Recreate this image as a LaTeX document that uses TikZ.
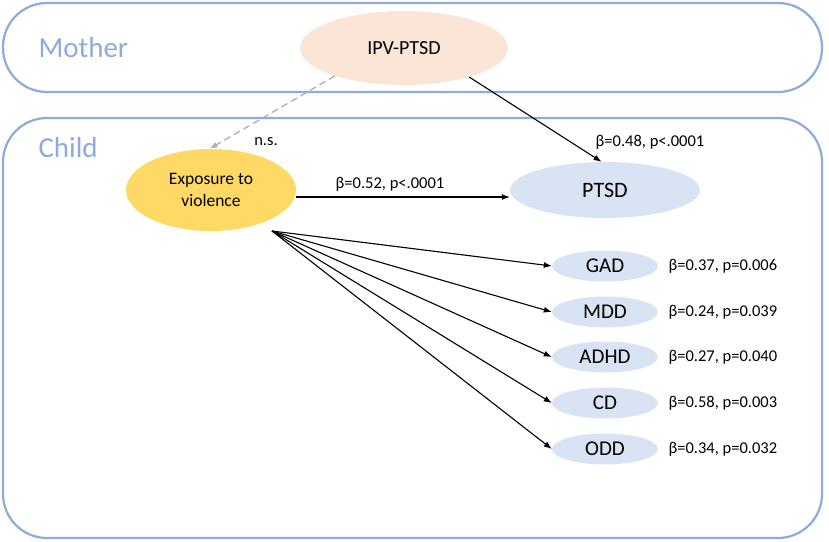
\documentclass[tikz,border=0pt]{standalone}
\usepackage{fontspec}
\setmainfont{Carlito}
\usetikzlibrary{arrows.meta,shapes.geometric}
\definecolor{boxblue}{HTML}{8FAADC}
\definecolor{peach}{HTML}{FBE5D6}
\definecolor{yel}{HTML}{FFD966}
\definecolor{lblue}{HTML}{DAE3F3}
\definecolor{grayarr}{HTML}{AFAFAF}
\tikzset{
  group/.style={draw=boxblue,line width=2.2pt,rounded corners=44pt},
  grouplabel/.style={text=boxblue,font=\fontsize{29}{34}\selectfont,anchor=west},
  oval/.style={ellipse,inner sep=0pt,align=center},
  arr/.style={-{Latex[length=8pt,width=6pt]},line width=1.1pt},
  lab/.style={font=\fontsize{16.5}{19}\selectfont},
}
\begin{document}
\begin{tikzpicture}[x=1pt,y=-1pt]
\useasboundingbox (0,0) rectangle (829,541);
\draw[group] (3,3) rectangle (822,92);
\draw[group] (3,118) rectangle (822,538);
\node[grouplabel] (mother) at (35,48) {Mother};
\node[grouplabel] (child) at (35,148) {Child};

\node[oval,fill=peach,minimum width=208pt,minimum height=74pt,font=\fontsize{20}{24}\selectfont] (ipv) at (404,48) {IPV-PTSD};
\node[oval,fill=yel,minimum width=170pt,minimum height=82pt,font=\fontsize{17.5}{22}\selectfont] (exp) at (211,190) {Exposure to\\violence};
\node[oval,fill=lblue,minimum width=190pt,minimum height=56pt,font=\fontsize{22}{26}\selectfont] (ptsd) at (605,190) {PTSD};

\foreach \n/\t/\y in {gad/GAD/266, mdd/MDD/312, adhd/ADHD/357, cd/CD/403, odd/ODD/449}{
  \node[oval,fill=lblue,minimum width=106pt,minimum height=31pt,font=\fontsize{21}{24}\selectfont] (\n) at (605,\y) {\t};
}
\node[lab,anchor=west] (lgad) at (665,266) {β=0.37, p=0.006};
\node[lab,anchor=west] (lmdd) at (665,312) {β=0.24, p=0.039};
\node[lab,anchor=west] (ladhd) at (665,357) {β=0.27, p=0.040};
\node[lab,anchor=west] (lcd) at (665,403) {β=0.58, p=0.003};
\node[lab,anchor=west] (lodd) at (665,449) {β=0.34, p=0.032};

\coordinate (fan) at (272,231);
\draw[arr,grayarr,dash pattern=on 7pt off 4pt,line width=1.3pt] (ipv.-158) -- (exp.92);
\node[lab] (ns) at (266,142) {n.s.};
\draw[arr] (ipv.-24) -- (ptsd.97);
\node[lab] (l48) at (650,142) {β=0.48, p<.0001};
\draw[arr] (exp.east |- 0,197) -- (ptsd.west |- 0,197);
\node[lab] (l52) at (390,184) {β=0.52, p<.0001};
\foreach \n in {gad,mdd,adhd,cd,odd}{
  \draw[arr] (fan) -- (\n.west);
}
\end{tikzpicture}
\end{document}
